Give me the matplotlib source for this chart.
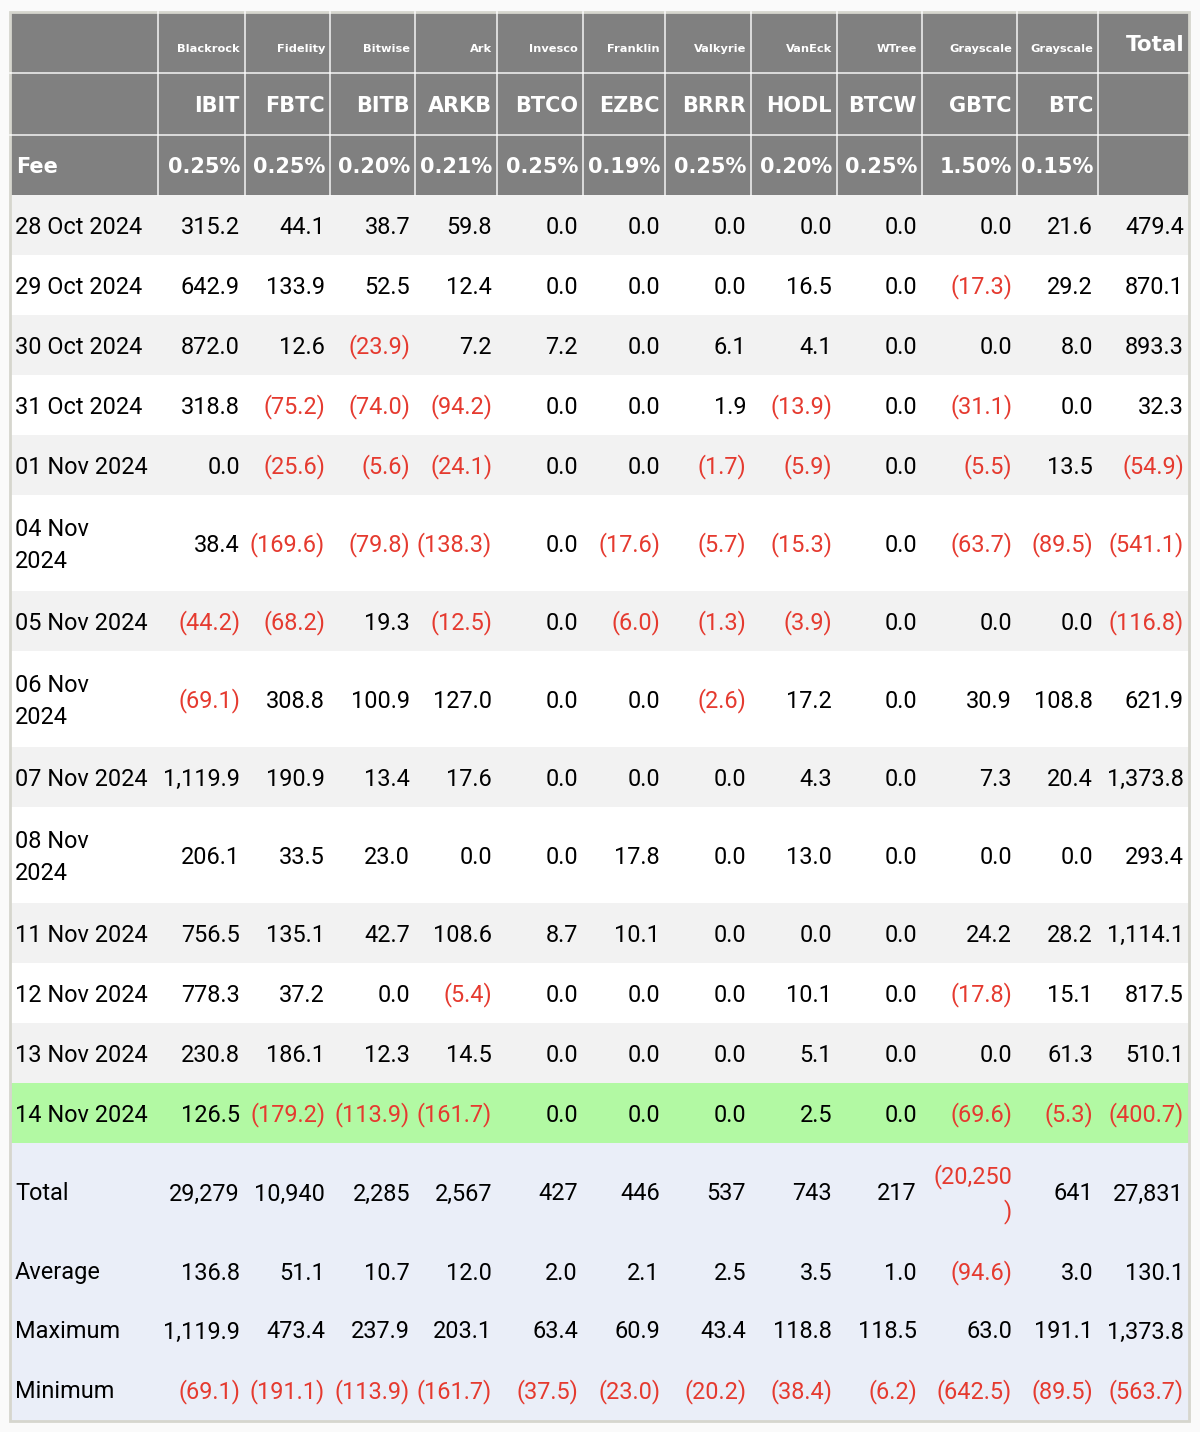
import matplotlib
matplotlib.use("Agg")
import matplotlib.pyplot as plt
from matplotlib.patches import Rectangle

# ---- data ----
issuers = ["Blackrock", "Fidelity", "Bitwise", "Ark", "Invesco", "Franklin",
           "Valkyrie", "VanEck", "WTree", "Grayscale", "Grayscale"]
tickers = ["IBIT", "FBTC", "BITB", "ARKB", "BTCO", "EZBC",
           "BRRR", "HODL", "BTCW", "GBTC", "BTC"]
fees = ["0.25%", "0.25%", "0.20%", "0.21%", "0.25%", "0.19%",
        "0.25%", "0.20%", "0.25%", "1.50%", "0.15%"]

dates = ["28 Oct 2024", "29 Oct 2024", "30 Oct 2024", "31 Oct 2024", "01 Nov 2024",
         "04 Nov 2024", "05 Nov 2024", "06 Nov 2024", "07 Nov 2024", "08 Nov 2024",
         "11 Nov 2024", "12 Nov 2024", "13 Nov 2024", "14 Nov 2024"]

# daily flows per issuer column + total column
flows = [
    [315.2, 44.1, 38.7, 59.8, 0.0, 0.0, 0.0, 0.0, 0.0, 0.0, 21.6, 479.4],
    [642.9, 133.9, 52.5, 12.4, 0.0, 0.0, 0.0, 16.5, 0.0, -17.3, 29.2, 870.1],
    [872.0, 12.6, -23.9, 7.2, 7.2, 0.0, 6.1, 4.1, 0.0, 0.0, 8.0, 893.3],
    [318.8, -75.2, -74.0, -94.2, 0.0, 0.0, 1.9, -13.9, 0.0, -31.1, 0.0, 32.3],
    [0.0, -25.6, -5.6, -24.1, 0.0, 0.0, -1.7, -5.9, 0.0, -5.5, 13.5, -54.9],
    [38.4, -169.6, -79.8, -138.3, 0.0, -17.6, -5.7, -15.3, 0.0, -63.7, -89.5, -541.1],
    [-44.2, -68.2, 19.3, -12.5, 0.0, -6.0, -1.3, -3.9, 0.0, 0.0, 0.0, -116.8],
    [-69.1, 308.8, 100.9, 127.0, 0.0, 0.0, -2.6, 17.2, 0.0, 30.9, 108.8, 621.9],
    [1119.9, 190.9, 13.4, 17.6, 0.0, 0.0, 0.0, 4.3, 0.0, 7.3, 20.4, 1373.8],
    [206.1, 33.5, 23.0, 0.0, 0.0, 17.8, 0.0, 13.0, 0.0, 0.0, 0.0, 293.4],
    [756.5, 135.1, 42.7, 108.6, 8.7, 10.1, 0.0, 0.0, 0.0, 24.2, 28.2, 1114.1],
    [778.3, 37.2, 0.0, -5.4, 0.0, 0.0, 0.0, 10.1, 0.0, -17.8, 15.1, 817.5],
    [230.8, 186.1, 12.3, 14.5, 0.0, 0.0, 0.0, 5.1, 0.0, 0.0, 61.3, 510.1],
    [126.5, -179.2, -113.9, -161.7, 0.0, 0.0, 0.0, 2.5, 0.0, -69.6, -5.3, -400.7],
]

summary_labels = ["Total", "Average", "Maximum", "Minimum"]
summary_total = [29279, 10940, 2285, 2567, 427, 446, 537, 743, 217, -20250, 641, 27831]
summary_avg = [136.8, 51.1, 10.7, 12.0, 2.0, 2.1, 2.5, 3.5, 1.0, -94.6, 3.0, 130.1]
summary_max = [1119.9, 473.4, 237.9, 203.1, 63.4, 60.9, 43.4, 118.8, 118.5, 63.0, 191.1, 1373.8]
summary_min = [-69.1, -191.1, -113.9, -161.7, -37.5, -23.0, -20.2, -38.4, -6.2, -642.5, -89.5, -563.7]

# ---- layout (pixels) ----
W, H = 1200, 1432
col_edges = [10, 158, 245, 330, 415, 497, 583, 665, 751, 837, 922, 1017, 1098, 1189]
header_edges = [12, 73, 135, 195]
wrapped_dates = {"04 Nov 2024", "06 Nov 2024", "08 Nov 2024"}
wrapped_cells = {("Total", 9)}   # cells the browser broke over two lines
summary_heights = [100, 58, 60, 60]

HEADER_BG = "#808080"
ROW_ALT = "#f2f2f2"
HIGHLIGHT = "#b2f9a3"
SUMMARY_BG = "#eaeef8"
RED = "#e53a2f"
BORDER = "#d6d6ce"
FONT = "Roboto"
HFONT = "DejaVu Sans"
FS = 16.9

fig = plt.figure(figsize=(W / 100, H / 100), dpi=100)
fig.patch.set_facecolor("#fafafa")
ax = fig.add_axes([0, 0, 1, 1])
ax.set_xlim(0, W)
ax.set_ylim(H, 0)
ax.axis("off")


def fmt(v, decimals=1):
    s = f"{abs(v):,.{decimals}f}"
    return f"({s})" if v < 0 else s


def cell_text(x, y, s, color="black", ha="right", **kw):
    ax.text(x, y, s, ha=ha, va="center", color=color, fontsize=kw.pop("fontsize", FS),
            family=kw.pop("family", FONT), linespacing=1.5, **kw)


# header block
top, bot = header_edges[0], header_edges[-1]
ax.add_patch(Rectangle((col_edges[0], top), col_edges[-1] - col_edges[0], bot - top,
                       facecolor=HEADER_BG, edgecolor="none"))
for x in col_edges[1:-1]:
    ax.plot([x, x], [top, bot], color="white", lw=1.2, alpha=0.85)
for y in header_edges[1:-1]:
    ax.plot([col_edges[0], col_edges[-1]], [y, y], color="white", lw=1.2, alpha=0.85)

for i in range(len(tickers)):
    xr = col_edges[i + 2] - 5
    cell_text(xr, 49, issuers[i], color="white", fontsize=8.2, family=HFONT,
              weight="bold")
    cell_text(xr, 106, tickers[i], color="white", fontsize=15, family=HFONT,
              weight="bold")
    cell_text(xr, 167, fees[i], color="white", fontsize=15, family=HFONT,
              weight="bold")
cell_text(col_edges[-1] - 5, 45, "Total", color="white", weight="bold",
          fontsize=15.5, family=HFONT)
cell_text(col_edges[0] + 6, 167, "Fee", color="white", weight="bold", ha="left",
          fontsize=15, family=HFONT)

# daily rows
y = header_edges[-1]
for r, (d, vals) in enumerate(zip(dates, flows)):
    h = 96 if d in wrapped_dates else 60
    if r == len(dates) - 1:
        bg = HIGHLIGHT
    elif r % 2 == 0:
        bg = ROW_ALT
    else:
        bg = "white"
    ax.add_patch(Rectangle((col_edges[0], y), col_edges[-1] - col_edges[0], h,
                           facecolor=bg, edgecolor="none"))
    label = d.replace(" 2024", "\n2024") if d in wrapped_dates else d
    cell_text(col_edges[0] + 5, y + h / 2 + 2, label, ha="left")
    for c, v in enumerate(vals):
        cell_text(col_edges[c + 2] - 5, y + h / 2 + 2, fmt(v),
                  color=RED if v < 0 else "black")
    y += h

# summary rows
ax.add_patch(Rectangle((col_edges[0], y), col_edges[-1] - col_edges[0], sum(summary_heights),
                       facecolor=SUMMARY_BG, edgecolor="none"))
summary_rows = [(summary_total, 0), (summary_avg, 1), (summary_max, 1), (summary_min, 1)]
for lab, (vals, dec), h in zip(summary_labels, summary_rows, summary_heights):
    cy = y + h / 2 + 1
    cell_text(col_edges[0] + 5, cy, lab, ha="left")
    for c, v in enumerate(vals):
        s = fmt(v, dec)
        if (lab, c) in wrapped_cells:
            s = s[:-1] + "\n" + s[-1]
        cell_text(col_edges[c + 2] - 5, cy, s, color=RED if v < 0 else "black")
    y += h

# outer border
ax.add_patch(Rectangle((col_edges[0], header_edges[0]), col_edges[-1] - col_edges[0],
                       y - header_edges[0], facecolor="none", edgecolor=BORDER, lw=2))

fig.savefig("out.png", dpi=100, facecolor=fig.get_facecolor())
